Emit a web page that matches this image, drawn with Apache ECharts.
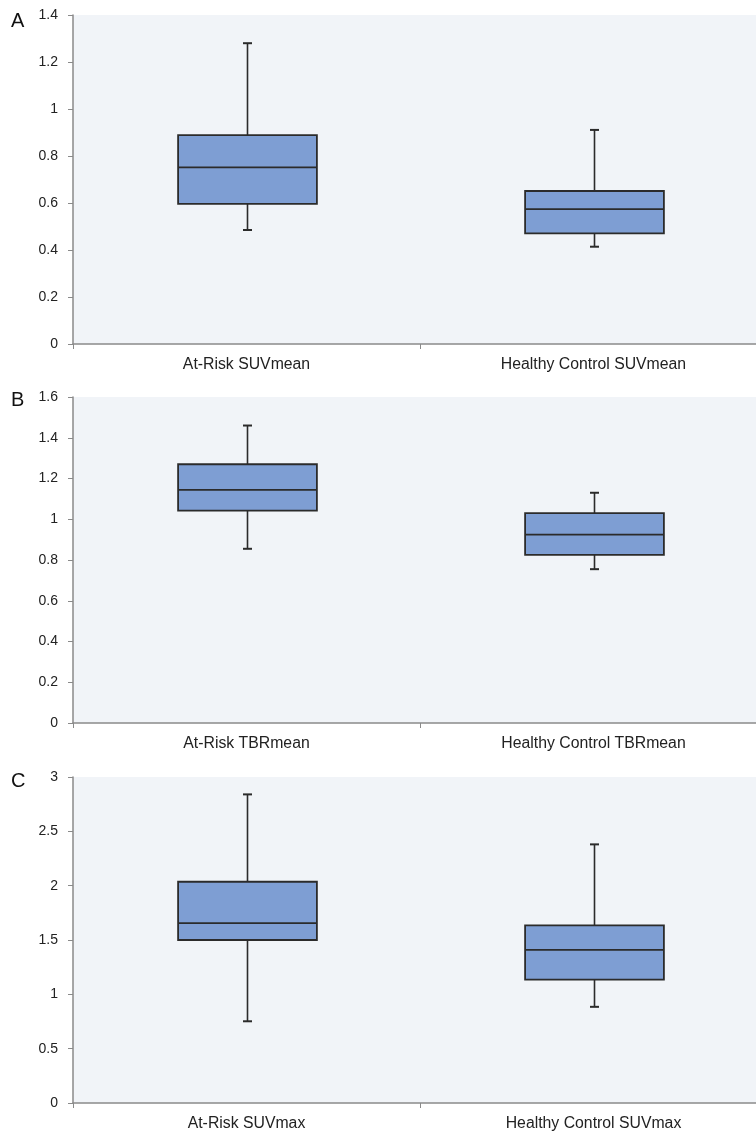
<!DOCTYPE html>
<html>
<head>
<meta charset="utf-8">
<script src="https://cdn.jsdelivr.net/npm/echarts@6/dist/echarts.min.js"></script>
<style>
html,body{margin:0;padding:0;background:#fff;overflow:hidden;}
#chart{width:756px;height:1133px;}
</style>
</head>
<body>
<div id="chart"></div>
<script>
// Categories per panel
const categoriesA = ['At-Risk SUVmean', 'Healthy Control SUVmean'];
const categoriesB = ['At-Risk TBRmean', 'Healthy Control TBRmean'];
const categoriesC = ['At-Risk SUVmax', 'Healthy Control SUVmax'];
// Box values: [min, Q1, median, Q3, max]
const boxesA = [[0.485, 0.596, 0.752, 0.889, 1.28], [0.414, 0.471, 0.574, 0.651, 0.911]];
const boxesB = [[0.855, 1.042, 1.144, 1.27, 1.46], [0.755, 0.825, 0.925, 1.03, 1.13]];
const boxesC = [[0.752, 1.50, 1.656, 2.036, 2.84], [0.885, 1.135, 1.41, 1.635, 2.38]];
// Axis ranges
const yMaxA = 1.4, yStepA = 0.2;
const yMaxB = 1.6, yStepB = 0.2;
const yMaxC = 3, yStepC = 0.5;
const panelLetters = ['A', 'B', 'C'];

const chart = echarts.init(document.getElementById('chart'));

const grids = [
  {left: 73, right: -11, top: 15, height: 329},
  {left: 73, right: -11, top: 397, height: 326},
  {left: 73, right: -11, top: 777, height: 326}
];

function fmt(v){ return String(Math.round(v*10)/10); }

function makeX(i, cats){
  return {
    type: 'category', gridIndex: i, data: cats,
    axisLine: {lineStyle: {color: '#8a8a8a', width: 1.5}},
    axisTick: {show: true, length: 5, lineStyle: {color: '#8a8a8a', width: 1}},
    axisLabel: {color: '#222', fontSize: 15.8, fontFamily: 'Liberation Sans, Arial, sans-serif', margin: 13},
    splitLine: {show: false}
  };
}
function makeY(i, max, step){
  return {
    type: 'value', gridIndex: i, min: 0, max: max, interval: step,
    axisLine: {show: true, lineStyle: {color: '#8a8a8a', width: 1.5}},
    axisTick: {show: true, length: 5, lineStyle: {color: '#8a8a8a', width: 1}},
    axisLabel: {color: '#222', fontSize: 14, fontFamily: 'Liberation Sans, Arial, sans-serif', margin: 15, formatter: fmt},
    splitLine: {show: false}
  };
}

function renderBox(params, api){
  const x = api.value(0);
  const mn = api.coord([x, api.value(1)]);
  const q1 = api.coord([x, api.value(2)]);
  const md = api.coord([x, api.value(3)]);
  const q3 = api.coord([x, api.value(4)]);
  const mx = api.coord([x, api.value(5)]);
  const band = api.size([1, 0])[0];
  const w = band * 0.4;
  const cx = Math.round(mn[0]) + 0.5;
  const left = cx - w / 2;
  const cap = 4.5;
  const lineStyle = {stroke: '#2b2b2b', lineWidth: 1.6};
  return {
    type: 'group',
    children: [
      {type: 'line', shape: {x1: cx, y1: q3[1], x2: cx, y2: mx[1]}, style: lineStyle},
      {type: 'line', shape: {x1: cx, y1: mn[1], x2: cx, y2: q1[1]}, style: lineStyle},
      {type: 'line', shape: {x1: cx - cap, y1: mx[1], x2: cx + cap, y2: mx[1]}, style: {stroke: '#2b2b2b', lineWidth: 2}},
      {type: 'line', shape: {x1: cx - cap, y1: mn[1], x2: cx + cap, y2: mn[1]}, style: {stroke: '#2b2b2b', lineWidth: 2}},
      {type: 'rect', shape: {x: left, y: q3[1], width: w, height: q1[1] - q3[1]}, style: {fill: '#7e9ed3', stroke: '#2b2b2b', lineWidth: 1.8}},
      {type: 'line', shape: {x1: left, y1: md[1], x2: left + w, y2: md[1]}, style: {stroke: '#2b2b2b', lineWidth: 1.8}}
    ]
  };
}

function makeSeries(i, boxes){
  return {
    type: 'custom', xAxisIndex: i, yAxisIndex: i,
    renderItem: renderBox,
    encode: {x: 0, y: [1, 2, 3, 4, 5]},
    data: boxes.map((b, k) => [k].concat(b)),
    silent: true
  };
}

const letterTops = [11, 390, 771];

chart.setOption({
  animation: false,
  grid: grids.map(g => Object.assign({show: true, backgroundColor: '#f1f4f8', borderWidth: 0, containLabel: false, outerBoundsMode: 'none'}, g)),
  xAxis: [makeX(0, categoriesA), makeX(1, categoriesB), makeX(2, categoriesC)],
  yAxis: [makeY(0, yMaxA, yStepA), makeY(1, yMaxB, yStepB), makeY(2, yMaxC, yStepC)],
  series: [makeSeries(0, boxesA), makeSeries(1, boxesB), makeSeries(2, boxesC)],
  graphic: panelLetters.map((t, i) => ({
    type: 'text', left: 11, top: letterTops[i],
    style: {text: t, fontSize: 20, fill: '#111', fontFamily: 'Liberation Sans, Arial, sans-serif'}
  }))
});
</script>
</body>
</html>
